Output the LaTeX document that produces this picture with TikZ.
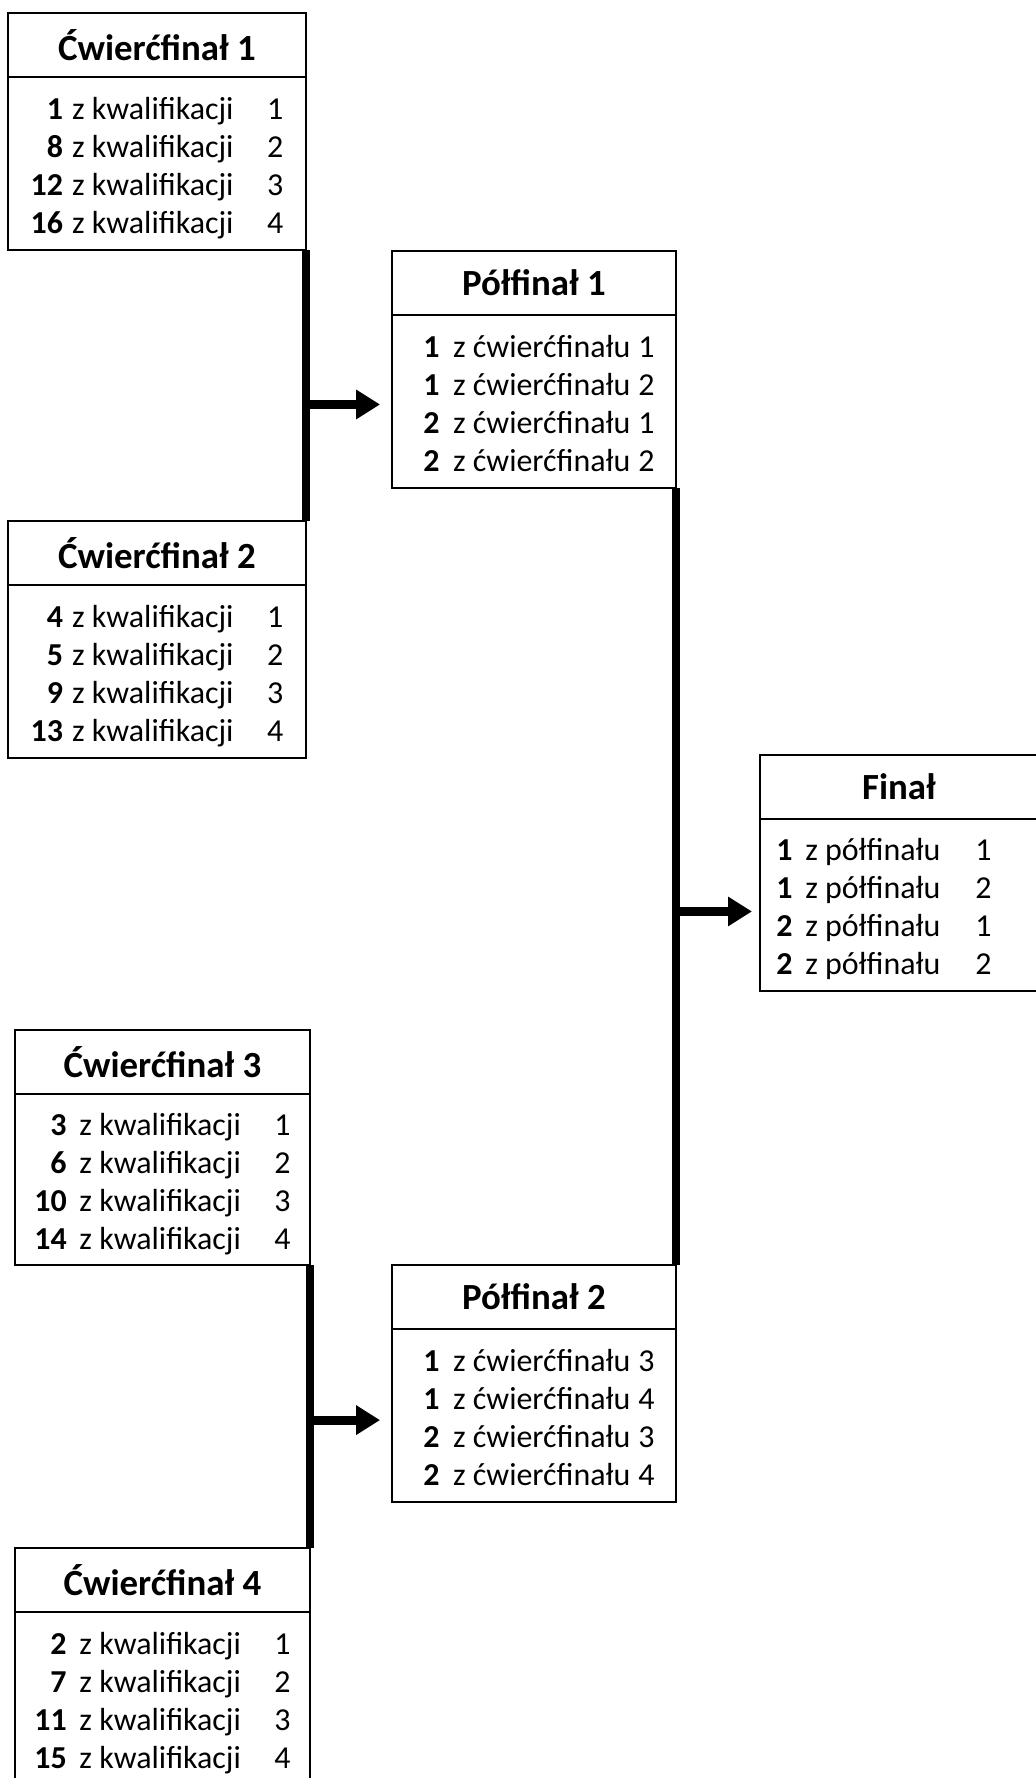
\documentclass[tikz,border=0pt]{standalone}
\usepackage{fontspec}
\setmainfont{Carlito}
\usepackage{array}
\usetikzlibrary{positioning,calc,arrows.meta}

\def\px{0.385pt}

\begin{document}
\begin{tikzpicture}[x=0.385pt, y=-0.385pt,
  box/.style={draw, line width=0.8pt, anchor=north west, inner sep=0pt,
    outer sep=0pt, minimum height=237*\px},
  head/.style={font=\fontsize{14.2}{17}\selectfont\bfseries},
  rows/.style={font=\fontsize{12.3}{14.65}\selectfont, inner sep=0pt},
  bar/.style={line width=3.4pt},
  arr/.style={line width=3.4pt, -{Triangle[length=9.2pt,width=10.8pt]}, shorten >=4.6pt},
]

%--- Page (the final box runs off the right edge, the last one off the bottom) ---
\useasboundingbox (0,0) rectangle (1036,1778);
\clip (0,0) rectangle (1036,1778);

%--- Quarter-finals 1 and 2 ---
\node[box, minimum width=298*\px] (qf1) at (8,13) {};
\draw[line width=0.8pt] ($(qf1.north west)+(0,64)$) -- ($(qf1.north east)+(0,64)$);
\node[head] (qf1t) at ($(qf1.north)+(0,32)$) {Ćwierćfinał 1};
\node[rows] (qf1r) at ($(qf1.north)+(0,156)$) {%
  \begin{tabular}{@{}>{\bfseries}r@{\hspace{.28em}}l@{\hspace{1.05em}}l@{}}
  1 & z kwalifikacji & 1\\
  8 & z kwalifikacji & 2\\
  12 & z kwalifikacji & 3\\
  16 & z kwalifikacji & 4
  \end{tabular}};

\node[box, minimum width=298*\px] (qf2) at (8,521) {};
\draw[line width=0.8pt] ($(qf2.north west)+(0,64)$) -- ($(qf2.north east)+(0,64)$);
\node[head] (qf2t) at ($(qf2.north)+(0,32)$) {Ćwierćfinał 2};
\node[rows] (qf2r) at ($(qf2.north)+(0,156)$) {%
  \begin{tabular}{@{}>{\bfseries}r@{\hspace{.28em}}l@{\hspace{1.05em}}l@{}}
  4 & z kwalifikacji & 1\\
  5 & z kwalifikacji & 2\\
  9 & z kwalifikacji & 3\\
  13 & z kwalifikacji & 4
  \end{tabular}};

%--- Semi-final 1 ---
\node[box, minimum width=284*\px] (pf1) at (392,251) {};
\draw[line width=0.8pt] ($(pf1.north west)+(0,64)$) -- ($(pf1.north east)+(0,64)$);
\node[head] (pf1t) at ($(pf1.north)+(0,32)$) {Półfinał 1};
\node[rows] (pf1r) at ($(pf1.north)+(5,156)$) {%
  \begin{tabular}{@{}>{\bfseries}r@{\hspace{.42em}}l@{\hspace{.25em}}l@{}}
  1 & z ćwierćfinału & 1\\
  1 & z ćwierćfinału & 2\\
  2 & z ćwierćfinału & 1\\
  2 & z ćwierćfinału & 2
  \end{tabular}};

%--- Final ---
\node[box, minimum width=284*\px, minimum height=236*\px] (fin) at (760,755) {};
\draw[line width=0.8pt] ($(fin.north west)+(0,64)$) -- ($(fin.north east)+(0,64)$);
\node[head] (fint) at ($(fin.north)+(-3,32)$) {Finał};
\node[rows] (finr) at ($(fin.north)+(-18,155)$) {%
  \begin{tabular}{@{}>{\bfseries}r@{\hspace{.4em}}l@{\hspace{1.1em}}l@{}}
  1 & z półfinału & 1\\
  1 & z półfinału & 2\\
  2 & z półfinału & 1\\
  2 & z półfinału & 2
  \end{tabular}};

%--- Quarter-finals 3 and 4 ---
\node[box, minimum width=295*\px, minimum height=235*\px] (qf3) at (15,1030) {};
\draw[line width=0.8pt] ($(qf3.north west)+(0,64)$) -- ($(qf3.north east)+(0,64)$);
\node[head] (qf3t) at ($(qf3.north)+(0,32)$) {Ćwierćfinał 3};
\node[rows] (qf3r) at ($(qf3.north)+(0,155)$) {%
  \begin{tabular}{@{}>{\bfseries}r@{\hspace{.4em}}l@{\hspace{1.05em}}l@{}}
  3 & z kwalifikacji & 1\\
  6 & z kwalifikacji & 2\\
  10 & z kwalifikacji & 3\\
  14 & z kwalifikacji & 4
  \end{tabular}};

\node[box, minimum width=295*\px] (qf4) at (15,1548) {};
\draw[line width=0.8pt] ($(qf4.north west)+(0,64)$) -- ($(qf4.north east)+(0,64)$);
\node[head] (qf4t) at ($(qf4.north)+(0,32)$) {Ćwierćfinał 4};
\node[rows] (qf4r) at ($(qf4.north)+(0,156)$) {%
  \begin{tabular}{@{}>{\bfseries}r@{\hspace{.4em}}l@{\hspace{1.05em}}l@{}}
  2 & z kwalifikacji & 1\\
  7 & z kwalifikacji & 2\\
  11 & z kwalifikacji & 3\\
  15 & z kwalifikacji & 4
  \end{tabular}};

%--- Semi-final 2 ---
\node[box, minimum width=284*\px] (pf2) at (392,1265) {};
\draw[line width=0.8pt] ($(pf2.north west)+(0,64)$) -- ($(pf2.north east)+(0,64)$);
\node[head] (pf2t) at ($(pf2.north)+(0,32)$) {Półfinał 2};
\node[rows] (pf2r) at ($(pf2.north)+(5,156)$) {%
  \begin{tabular}{@{}>{\bfseries}r@{\hspace{.42em}}l@{\hspace{.25em}}l@{}}
  1 & z ćwierćfinału & 3\\
  1 & z ćwierćfinału & 4\\
  2 & z ćwierćfinału & 3\\
  2 & z ćwierćfinału & 4
  \end{tabular}};

%--- Bracket bars and arrows ---
\draw[bar] (qf1.south east) -- (qf2.north east);
\draw[bar] (pf1.south east) -- (pf2.north east);
\draw[bar] (qf3.south east) -- (qf4.north east);

\coordinate (a1) at ($(qf1.south east)!0.57!(qf2.north east)$);
\coordinate (a2) at ($(pf1.south east)!0.545!(pf2.north east)$);
\coordinate (a3) at ($(qf3.south east)!0.548!(qf4.north east)$);

\draw[arr] (a1) -- (a1 -| pf1.west);
\draw[arr, shorten >=3.1pt] (a2) -- (a2 -| fin.west);
\draw[arr] (a3) -- (a3 -| pf2.west);

\end{tikzpicture}
\end{document}
